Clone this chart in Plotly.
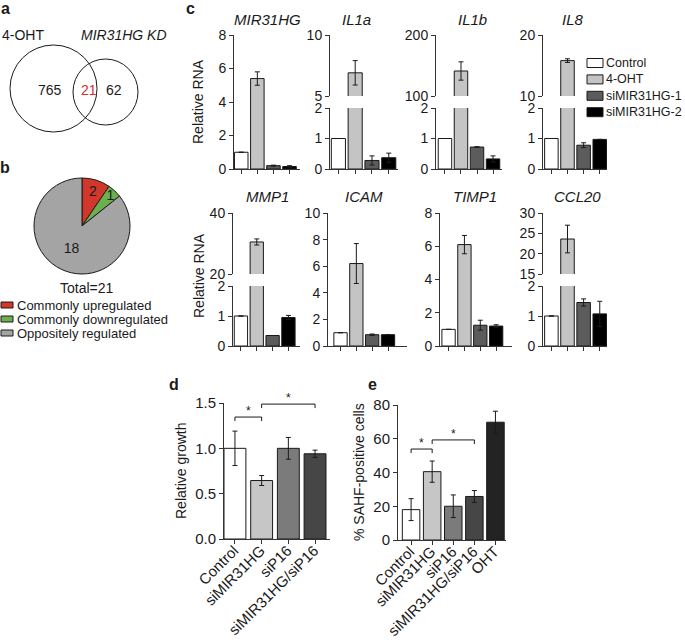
import plotly.graph_objects as go

W, H = 685, 643
FONT = "Liberation Sans, Arial, Helvetica, sans-serif"
INK = "#1a1a1a"
AX = "#333333"

# ---------------- data ----------------
# a: Venn diagram
venn_names = ["4-OHT", "MIR31HG KD"]
venn_counts = [765, 21, 62]          # 4-OHT only, shared, MIR31HG KD only

# b: pie chart
pie_labels = ["Commonly upregulated", "Commonly downregulated", "Oppositely regulated"]
pie_values = [2, 1, 18]
pie_total_label = "Total=21"

# c: relative RNA
c_series = ["Control", "4-OHT", "siMIR31HG-1", "siMIR31HG-2"]
c_genes = ["MIR31HG", "IL1a", "IL1b", "IL8", "MMP1", "ICAM", "TIMP1", "CCL20"]
mir31hg = [1.0, 5.4, 0.2, 0.15]
mir31hg_err = [None, 0.4, 0.03, 0.05]
il1a = [1.0, 6.9, 0.28, 0.37]
il1a_err = [None, 1.0, 0.15, 0.15]
il1b = [1.0, 141, 0.72, 0.33]
il1b_err = [None, 15, 0.01, 0.1]
il8 = [1.0, 15.8, 0.78, 0.97]
il8_err = [None, 0.3, 0.08, None]
mmp1 = [1.0, 30.5, 0.35, 0.95]
mmp1_err = [None, 1.0, None, 0.07]
icam = [1.0, 6.2, 0.85, 0.85]
icam_err = [None, 1.5, 0.05, None]
timp1 = [1.0, 6.1, 1.25, 1.2]
timp1_err = [None, 0.55, 0.3, 0.08]
ccl20 = [1.0, 23.6, 1.45, 1.07]
ccl20_err = [None, 3.4, 0.12, 0.42]

# d: relative growth
d_groups = ["Control", "siMIR31HG", "siP16", "siMIR31HG/siP16"]
d_growth = [1.0, 0.645, 1.0, 0.94]
d_growth_err = [0.19, 0.055, 0.12, 0.04]
d_sig_pairs = [(0, 1), (1, 3)]

# e: SAHF-positive cells
e_groups = ["Control", "siMIR31HG", "siP16", "siMIR31HG/siP16", "OHT"]
e_sahf = [18, 40.5, 20, 25.8, 69.8]
e_sahf_err = [6.5, 6.3, 6.7, 3.5, 6.5]
e_sig_pairs = [(0, 1), (1, 3)]

# y-axis scales: (lower range, lower ticks, upper range, upper ticks)
c_scales = {
    "MIR31HG": ([0, 8], [0, 2, 4, 6, 8], None, None),
    "IL1a": ([0, 2], [0, 1, 2], [5, 10], [5, 10]),
    "IL1b": ([0, 2], [0, 1, 2], [100, 200], [100, 200]),
    "IL8": ([0, 2], [0, 1, 2], [10, 20], [10, 20]),
    "MMP1": ([0, 2], [0, 1, 2], [20, 40], [20, 40]),
    "ICAM": ([0, 10], [0, 2, 4, 6, 8, 10], None, None),
    "TIMP1": ([0, 8], [0, 2, 4, 6, 8], None, None),
    "CCL20": ([0, 2], [0, 1, 2], [15, 30], [15, 20, 25, 30]),
}

# ---------------- styles / geometry ----------------
pie_colors = ["#d2372b", "#6cb04e", "#a4a4a4"]
c_colors = ["#ffffff", "#c4c4c4", "#5c5c5c", "#000000"]
d_colors = ["#ffffff", "#c6c6c6", "#7b7b7b", "#464646"]
e_colors = ["#ffffff", "#c6c6c6", "#7b7b7b", "#464646", "#232323"]

ROWS = [dict(full=(35, 169), lower=(108, 169), upper=(35, 96), title=20),
        dict(full=(213, 346), lower=(286, 346), upper=(213, 274), title=197)]
# gene: (row, axis x, end x, x range, title x)
C_GEOM = {
    "MIR31HG": (0, 234, 300, [-0.45, 3.65], 267),
    "IL1a": (0, 330, 398, [-0.5, 3.55], 356),
    "IL1b": (0, 436, 502, [-0.56, 3.56], 472),
    "IL8": (0, 543, 607, [-0.52, 3.45], 573),
    "MMP1": (1, 233, 300, [-0.5, 3.73], 267),
    "ICAM": (1, 328, 407, [-0.79, 4.2], 364),
    "TIMP1": (1, 440, 512, [-0.54, 4.0], 475),
    "CCL20": (1, 543, 607, [-0.52, 3.45], 577),
}


def fx(p):
    return p / W


def fy(p):
    return 1 - p / H


layout = dict(width=W, height=H, margin=dict(l=0, r=0, t=0, b=0, pad=0, autoexpand=False),
              paper_bgcolor="white", plot_bgcolor="rgba(0,0,0,0)",
              showlegend=False, barmode="overlay",
              font=dict(family=FONT, size=14, color=INK),
              uniformtext=dict(minsize=14, mode="show"))
annotations, shapes, traces = [], [], []


def text(x, y, s, size=14, color=INK, xanchor="center", yanchor="middle", angle=0):
    annotations.append(dict(x=fx(x), y=fy(y), xref="paper", yref="paper", text=s,
                            showarrow=False, textangle=angle, borderpad=0,
                            font=dict(size=size, color=color, family=FONT),
                            xanchor=xanchor, yanchor=yanchor))


n_axes = [0]


def add_axes(xd, yd, xr, yr, yticks, show_x=True, xlabels=False, xfont=15, yfont=14, yfmt=None):
    n_axes[0] += 1
    s = "" if n_axes[0] == 1 else str(n_axes[0])
    xa = dict(domain=[fx(xd[0]), fx(xd[1])], range=xr, anchor="y" + s, type="category",
              showgrid=False, zeroline=False, fixedrange=True, automargin=False)
    if show_x:
        xa.update(showline=True, linecolor=AX, linewidth=1, ticks="outside", ticklen=4,
                  tickwidth=1, tickcolor=AX, showticklabels=xlabels, tickangle=-45,
                  tickfont=dict(size=xfont, color=INK))
        if xlabels:
            xa.update(ticklabelstandoff=-8, ticklabelshift=-1)
    else:
        xa.update(visible=False)
    ya = dict(domain=[fy(yd[1]), fy(yd[0])], range=yr, anchor="x" + s, tickvals=yticks,
              showline=True, linecolor=AX, linewidth=1, ticks="outside", ticklen=4,
              tickwidth=1, tickcolor=AX, showgrid=False, zeroline=False, fixedrange=True,
              tickfont=dict(size=yfont, color=INK), automargin=False)
    if yfmt:
        ya["tickformat"] = yfmt
    layout["xaxis" + s] = xa
    layout["yaxis" + s] = ya
    return "x" + s, "y" + s


def bars(xa, ya, cats, vals, errs, colors, width):
    traces.append(go.Bar(x=cats, y=vals, xaxis=xa, yaxis=ya, width=width,
                         marker=dict(color=colors, line=dict(color=INK, width=1)),
                         error_y=dict(type="data", array=errs, color=INK, thickness=1, width=2.5),
                         hoverinfo="x+y"))


# ---------------- a: Venn ----------------
text(5, 9, "<b>a</b>", size=16)
shapes.append(dict(type="circle", xref="paper", yref="paper", x0=fx(10), x1=fx(97),
                   y0=fy(132), y1=fy(45), line=dict(color=INK, width=1)))
shapes.append(dict(type="circle", xref="paper", yref="paper", x0=fx(73), x1=fx(138),
                   y0=fy(125), y1=fy(59), line=dict(color=INK, width=1)))
text(23, 35, venn_names[0])
text(124, 35, "<i>" + venn_names[1] + "</i>")
text(50, 90, str(venn_counts[0]))
text(89, 90, str(venn_counts[1]), color="#d03030")
text(114, 90, str(venn_counts[2]))

# ---------------- b: pie ----------------
text(5, 167, "<b>b</b>", size=16)
traces.append(go.Pie(values=pie_values, labels=pie_labels, sort=False, direction="clockwise",
                     rotation=0, marker=dict(colors=pie_colors, line=dict(color=INK, width=1)),
                     texttemplate="%{value}", textposition="inside",
                     insidetextorientation="horizontal",
                     textfont=dict(size=14, color=INK, family=FONT),
                     domain=dict(x=[fx(34), fx(130)], y=[fy(274), fy(178)]),
                     showlegend=False, hoverinfo="label+value"))
text(87, 288, pie_total_label)
for i, (lab, col) in enumerate(zip(pie_labels, pie_colors)):
    yy = 305 + i * 14
    shapes.append(dict(type="rect", xref="paper", yref="paper", x0=fx(1), x1=fx(13),
                       y0=fy(yy + 3), y1=fy(yy - 3), fillcolor=col, line=dict(color=INK, width=1)))
    text(16, yy, lab, size=13, xanchor="left")

# ---------------- c: relative RNA ----------------
text(190, 9, "<b>c</b>", size=16)
c_data = {"MIR31HG": (mir31hg, mir31hg_err), "IL1a": (il1a, il1a_err),
          "IL1b": (il1b, il1b_err), "IL8": (il8, il8_err), "MMP1": (mmp1, mmp1_err),
          "ICAM": (icam, icam_err), "TIMP1": (timp1, timp1_err), "CCL20": (ccl20, ccl20_err)}
for g in c_genes:
    row, x0, x1, xr, tx = C_GEOM[g]
    R = ROWS[row]
    vals, errs = c_data[g]
    lr, lt, ur, ut = c_scales[g]
    if ur is None:
        xa, ya = add_axes((x0, x1), R["full"], xr, lr, lt)
        bars(xa, ya, c_series, vals, errs, c_colors, 0.84)
    else:
        xa, ya = add_axes((x0, x1), R["lower"], xr, lr, lt)
        bars(xa, ya, c_series, vals, errs, c_colors, 0.84)
        xa, ya = add_axes((x0, x1), R["upper"], xr, ur, ut, show_x=False)
        bars(xa, ya, c_series, vals, errs, c_colors, 0.84)
    text(tx, R["title"], "<i>" + g + "</i>", size=15)

text(198, 102, "Relative RNA", angle=-90)
text(199, 276, "Relative RNA", angle=-90)
for i, (lab, col) in enumerate(zip(c_series, c_colors)):
    yy = 63 + i * 16.4
    shapes.append(dict(type="rect", xref="paper", yref="paper", x0=fx(587), x1=fx(603),
                       y0=fy(yy + 4.5), y1=fy(yy - 4.5), fillcolor=col, line=dict(color=INK, width=1)))
    text(605, yy, lab, size=12.5, xanchor="left")


def brackets(xa, ya, pairs, levels, drop):
    for (a, b), lv in zip(pairs, levels):
        for (p0, q0, p1, q1) in [(a, lv - drop, a, lv), (a, lv, b, lv), (b, lv, b, lv - drop)]:
            shapes.append(dict(type="line", xref=xa, yref=ya, x0=p0, y0=q0, x1=p1, y1=q1,
                               line=dict(color=INK, width=1)))
        annotations.append(dict(x=(a + b) / 2, y=lv, xref=xa, yref=ya, text="*", showarrow=False,
                                yanchor="bottom", yshift=-3, font=dict(size=12, color=INK, family=FONT)))


# ---------------- d: relative growth ----------------
text(174, 384, "<b>d</b>", size=16)
xa, ya = add_axes((224, 330), (403, 539), [-0.41, 3.56], [0, 1.5], [0, 0.5, 1.0, 1.5],
                  xlabels=True, yfont=15, yfmt=".1f")
bars(xa, ya, d_groups, d_growth, d_growth_err, d_colors, 0.82)
brackets(xa, ya, d_sig_pairs, [1.345, 1.488], 0.044)
text(181, 471, "Relative growth", angle=-90)

# ---------------- e: SAHF ----------------
text(372, 384, "<b>e</b>", size=16)
xa, ya = add_axes((398, 506), (405, 540), [-0.62, 4.5], [0, 80], [0, 20, 40, 60, 80],
                  xlabels=True, yfont=15)
bars(xa, ya, e_groups, e_sahf, e_sahf_err, e_colors, 0.83)
brackets(xa, ya, e_sig_pairs, [53.9, 59.3], 2.4)
text(359, 472, "% SAHF-positive cells", angle=-90)

layout["annotations"] = annotations
layout["shapes"] = shapes
fig = go.Figure(data=traces, layout=layout)
fig.write_html("out.html", config={"displayModeBar": False, "staticPlot": True},
               post_script="document.body.style.margin='0px';document.body.style.overflow='hidden';")
